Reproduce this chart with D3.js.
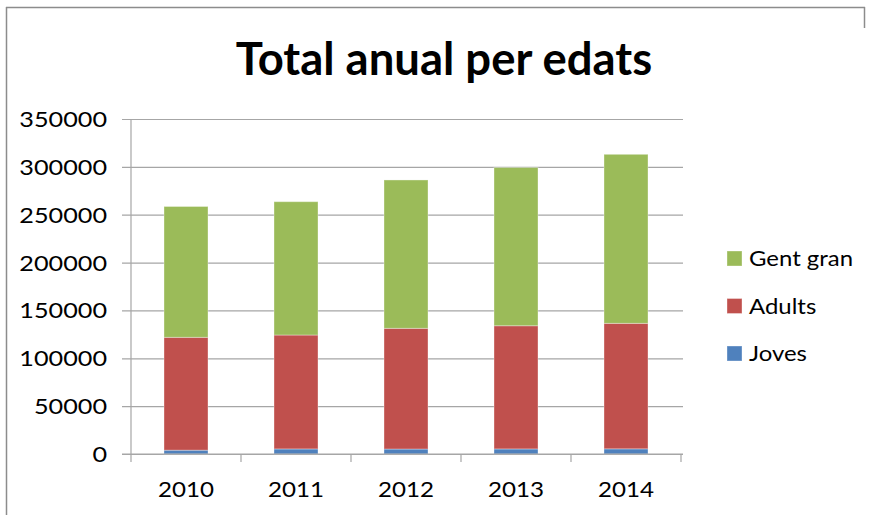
<!DOCTYPE html>
<html>
<head>
<meta charset="utf-8">
<script src="https://cdn.jsdelivr.net/npm/d3@7"></script>
<style>
  html, body { margin: 0; padding: 0; background: #fff; }
  svg { display: block; }
  text { font-family: Lato, "Open Sans", sans-serif; fill: #000; }
</style>
</head>
<body>
<svg id="chart" width="871" height="515"></svg>
<script>
// Annual totals by age group, 2010–2014
const years = ["2010", "2011", "2012", "2013", "2014"];
const joves = [4000, 5300, 5200, 5300, 5400];
const adults = [117900, 119000, 126100, 128700, 131100];
const gentGran = [136700, 139300, 155000, 165300, 176600];
const seriesNames = ["Joves", "Adults", "Gent gran"];
const seriesColors = ["#4f81bd", "#c0504d", "#9bbb59"];
const yTicks = [0, 50000, 100000, 150000, 200000, 250000, 300000, 350000];
const title = "Total anual per edats";

const rows = years.map((y, i) => ({ year: y, Joves: joves[i], Adults: adults[i], "Gent gran": gentGran[i] }));
const stacked = d3.stack().keys(seriesNames)(rows);

const svg = d3.select("#chart");
const plot = { left: 131, right: 681, top: 119, bottom: 454 };

const x = d3.scaleBand().domain(years).range([plot.left, plot.right])
  .paddingInner(0.6).paddingOuter(0.3);
const step = x.step();
const y = d3.scaleLinear().domain([0, 350000]).range([plot.bottom, plot.top]);
const color = d3.scaleOrdinal().domain(seriesNames).range(seriesColors);

// place a text at (px, py) with a horizontal stretch
function place(sel, px, py, sx) {
  sel.attr("x", 0).attr("y", 0).attr("transform", `translate(${px},${py}) scale(${sx},1)`);
}

// chart frame
const frame = svg.append("g").attr("fill", "none").attr("stroke", "#8c8c8c").attr("stroke-width", 1.5);
frame.append("line").attr("x1", 6).attr("x2", 865).attr("y1", 7.5).attr("y2", 7.5);
frame.append("line").attr("x1", 6.5).attr("x2", 6.5).attr("y1", 7).attr("y2", 515);
frame.append("line").attr("x1", 864.5).attr("x2", 864.5).attr("y1", 7).attr("y2", 28);

// title
svg.append("text")
  .attr("text-anchor", "middle")
  .attr("font-weight", "bold")
  .attr("font-size", 45)
  .text(title)
  .call(place, 444, 75, 1.01);

// horizontal gridlines with left tick marks
const yAxis = d3.axisLeft(y).tickValues(yTicks).tickSize(-(plot.right - plot.left + 2)).tickSizeOuter(0).tickPadding(0).tickFormat(d3.format("d"));
const gy = svg.append("g").attr("transform", `translate(${plot.left},0)`).call(yAxis);
gy.select(".domain").remove();
gy.selectAll(".tick line").attr("stroke", "#a6a6a6").attr("stroke-width", 1.2).attr("x1", -9);
gy.selectAll(".tick text").attr("font-size", 21).attr("dy", "0.36em").attr("fill", "#000")
  .call(place, -24, 0, 1.2);

// bars
svg.append("g").selectAll("g").data(stacked).join("g")
  .attr("fill", d => color(d.key))
  .selectAll("rect").data(d => d).join("rect")
  .attr("x", d => x(d.data.year))
  .attr("width", x.bandwidth())
  .attr("y", d => y(d[1]))
  .attr("height", d => y(d[0]) - y(d[1]))
  .attr("stroke", "#ffffff").attr("stroke-opacity", 0.35).attr("stroke-width", 1);

// vertical axis line
svg.append("line").attr("x1", plot.left).attr("x2", plot.left).attr("y1", plot.top).attr("y2", plot.bottom)
  .attr("stroke", "#a6a6a6").attr("stroke-width", 1.2);

// category axis
const xAxis = d3.axisBottom(x).tickSize(0).tickPadding(0);
const gx = svg.append("g").attr("transform", `translate(0,${plot.bottom})`).call(xAxis);
gx.select(".domain").remove();
gx.selectAll(".tick text").attr("font-size", 21).attr("dy", 0).attr("fill", "#000")
  .call(place, 0, 43, 1.15);
gx.append("line").attr("x1", plot.left - 9).attr("x2", plot.right + 2).attr("stroke", "#a6a6a6").attr("stroke-width", 1.2);
gx.selectAll(".sep").data(d3.range(years.length + 1)).join("line")
  .attr("class", "sep")
  .attr("x1", i => plot.left + i * step).attr("x2", i => plot.left + i * step)
  .attr("y1", 0).attr("y2", 8)
  .attr("stroke", "#a6a6a6").attr("stroke-width", 1.2);

// legend (top entry is the top stack)
const legend = svg.append("g");
const legendItems = seriesNames.slice().reverse();
legendItems.forEach((name, i) => {
  const gy0 = 251 + i * 47.5;
  legend.append("rect").attr("x", 727).attr("y", gy0).attr("width", 15).attr("height", 15)
    .attr("fill", color(name)).attr("stroke", "#fff").attr("stroke-opacity", 0.35);
  legend.append("text").attr("dy", "0.36em")
    .attr("font-size", 21).text(name)
    .call(place, 749, gy0 + 7.5, 1.14);
});
</script>
</body>
</html>
